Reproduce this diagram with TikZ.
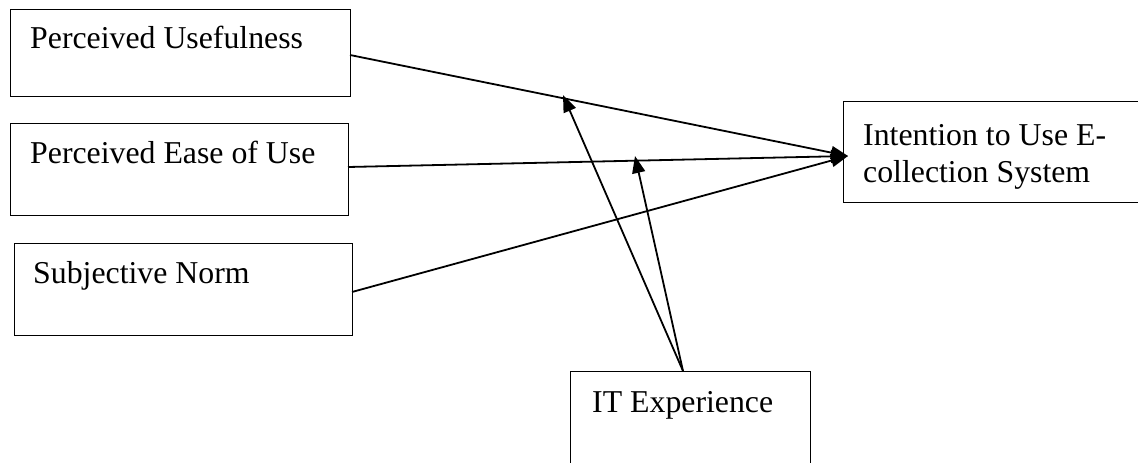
\documentclass[tikz,border=0pt]{standalone}
\usepackage{fontspec}
\setmainfont{Liberation Serif}
\usetikzlibrary{arrows.meta}
\begin{document}
\begin{tikzpicture}[x=1pt,y=-1pt,
  boxstyle/.style={draw,line width=1.1pt,rectangle,inner sep=0pt,anchor=north west},
  txt/.style={anchor=base west,inner sep=0pt,font=\fontsize{31.8}{37}\selectfont},
  conn/.style={line width=1.8pt,-{Triangle[length=17pt,width=13pt]}}]
\useasboundingbox (0,0) rectangle (1138,463);
\clip (0,0) rectangle (1138,463);
% boxes
\node[boxstyle,minimum width=340pt,minimum height=87pt] (pu) at (10,9) {};
\node[boxstyle,minimum width=338pt,minimum height=92pt] (pe) at (10,123) {};
\node[boxstyle,minimum width=338pt,minimum height=92pt] (sn) at (14,243) {};
\node[boxstyle,minimum width=310pt,minimum height=101pt] (ie) at (843,101) {};
\node[boxstyle,minimum width=240pt,minimum height=110pt] (it) at (570,371) {};
% texts
\node[txt] (tpu) at (30,48) {Perceived Usefulness};
\node[txt] (tpe) at (30,163) {Perceived Ease of Use};
\node[txt] (tsn) at (33,283) {Subjective Norm};
\node[txt] (tie1) at (863,145) {Intention to Use E-};
\node[txt] (tie2) at (863,182) {collection System};
\node[txt] (tit) at (592,412) {IT Experience};
% connector ends
\coordinate (tgt) at (848,156);
\coordinate (s1) at (350,55);
\coordinate (s2) at (348,167);
\coordinate (s3) at (352,292);
\coordinate (itsrc) at (683,371);
\coordinate (m1) at (563,95);
\coordinate (m2) at (635,156);
% connectors
\draw[conn] (s1) -- (tgt);
\draw[conn] (s2) -- (tgt);
\draw[conn] (s3) -- (tgt);
\draw[conn] (itsrc) -- (m1);
\draw[conn] (itsrc) -- (m2);
\end{tikzpicture}
\end{document}
